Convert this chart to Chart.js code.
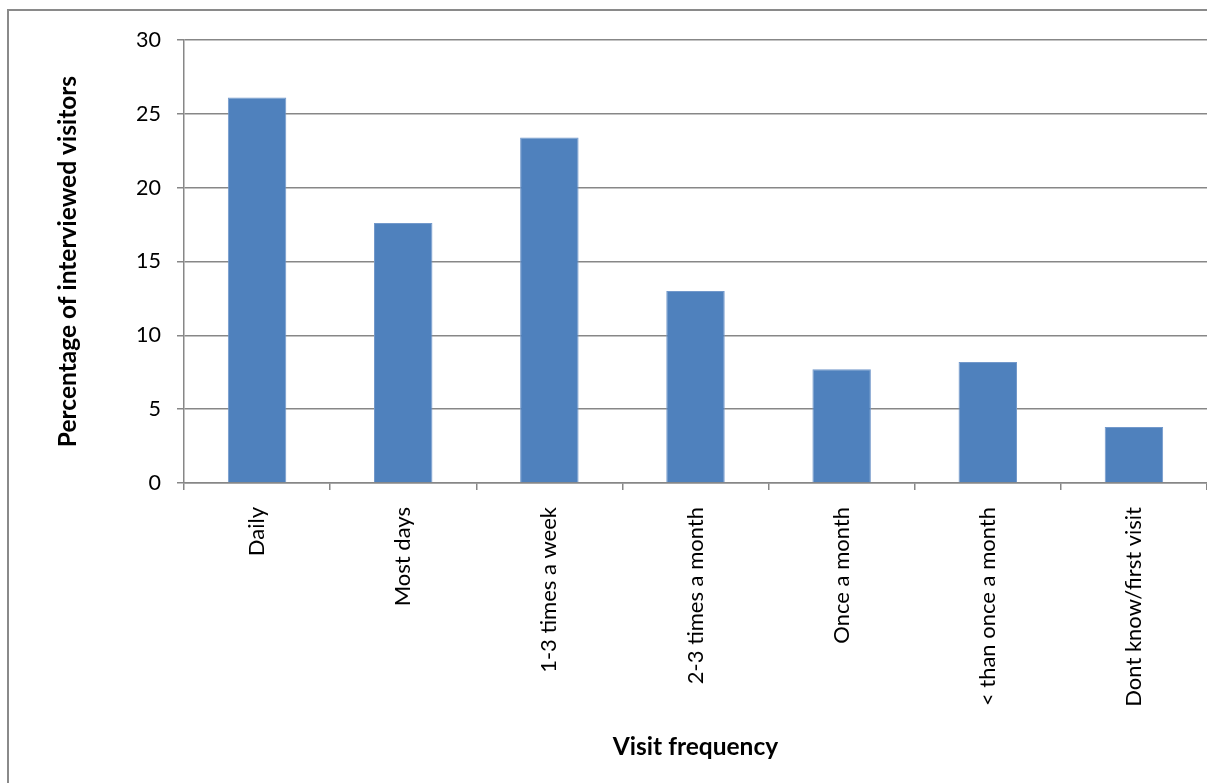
<!DOCTYPE html>
<html><head><meta charset="utf-8">
<script src="https://cdn.jsdelivr.net/npm/chart.js@4"></script>
<style>html,body{margin:0;padding:0;background:#fff;overflow:hidden}#wrap{position:relative;width:1207px;height:783px}</style>
</head><body><div id="wrap"><canvas id="c" width="1207" height="783"></canvas></div>
<script>
const categories = ['Daily','Most days','1-3 times a week','2-3 times a month','Once a month','< than once a month','Dont know/first visit'];
const percentages = [26.1, 17.6, 23.4, 13.0, 7.7, 8.2, 3.8];
const yTicks = [0, 5, 10, 15, 20, 25, 30];
const yTitle = 'Percentage of interviewed visitors';
const xTitle = 'Visit frequency';

const FONT = 'Lato, "Open Sans", sans-serif';
const GRID = '#878787';

const frame = {
  id: 'frame',
  beforeDraw(chart) {
    const ctx = chart.ctx;
    ctx.save();
    ctx.fillStyle = '#fff';
    ctx.fillRect(0, 0, chart.width, chart.height);
    ctx.strokeStyle = '#8a8a8a';
    ctx.lineWidth = 2;
    ctx.strokeRect(8, 10, 1400, 1000);
    ctx.restore();
  }
};

new Chart(document.getElementById('c'), {
  type: 'bar',
  data: {
    labels: categories,
    datasets: [{
      data: percentages,
      backgroundColor: '#4F81BD',
      borderColor: '#7399CB',
      borderWidth: 1,
      barPercentage: 0.4,
      categoryPercentage: 1.0
    }]
  },
  options: {
    responsive: false,
    devicePixelRatio: 1,
    animation: false,
    layout: { padding: { left: 0, top: 40, right: 0, bottom: 0 } },
    plugins: { legend: { display: false }, tooltip: { enabled: false } },
    scales: {
      x: {
        grid: { display: true, drawOnChartArea: false, drawTicks: true, tickLength: 7, color: GRID, lineWidth: 1.5 },
        border: { display: true, color: GRID, width: 1.5 },
        ticks: { autoSkip: false, minRotation: 90, maxRotation: 90, padding: 17, color: '#000', font: { family: FONT, size: 22 } },
        title: { display: true, text: xTitle, color: '#000', font: { family: FONT, size: 24.5, weight: 'bold', lineHeight: 1 }, padding: { top: 0, bottom: 24 } },
        afterFit(s) { s.height = 300; s.paddingLeft = 0; s.paddingRight = 0; }
      },
      y: {
        min: 0, max: 30,
        afterBuildTicks(s) { s.ticks = yTicks.map(v => ({ value: v })); },
        grid: { color: GRID, lineWidth: 1.5, drawTicks: true, tickLength: 7 },
        border: { display: true, color: GRID, width: 1.5 },
        ticks: { padding: 16, color: '#000', font: { family: FONT, size: 21.5 } },
        title: { display: true, text: yTitle, color: '#000', font: { family: FONT, size: 24.5, weight: 'bold', lineHeight: 1.2 }, padding: { top: 53, bottom: 0 } },
        afterFit(s) { s.width = 184; }
      }
    }
  },
  plugins: [frame]
});
</script></body></html>
